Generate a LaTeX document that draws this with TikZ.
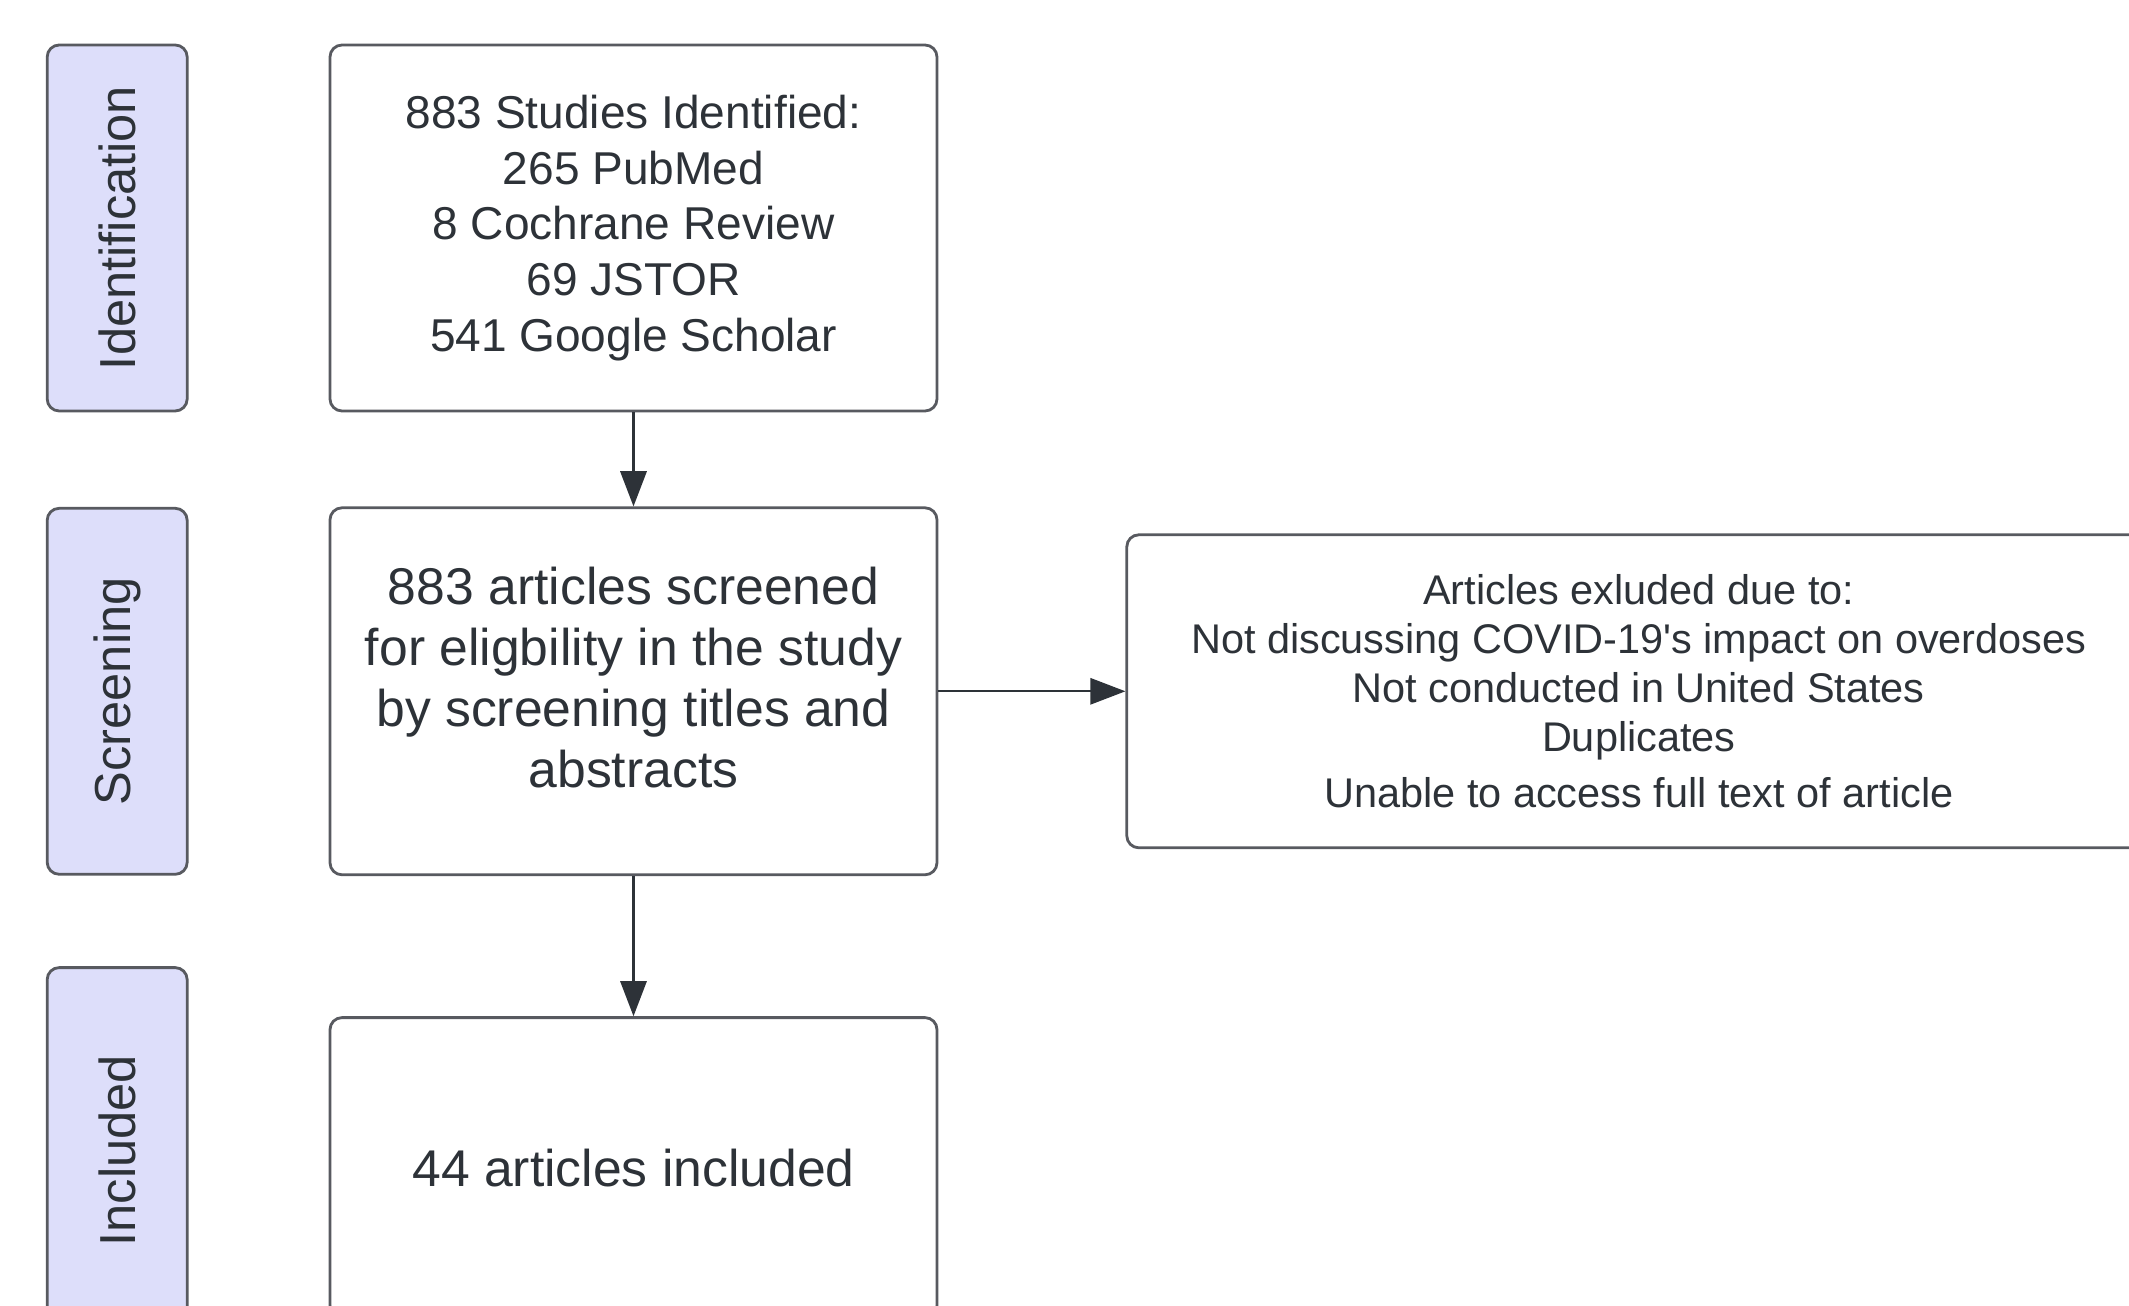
\documentclass[tikz,border=0pt]{standalone}
\usepackage{fontspec}
\setmainfont{Liberation Sans}
\usetikzlibrary{positioning}
\usetikzlibrary{arrows.meta}
\definecolor{stagefill}{RGB}{221,222,250}
\definecolor{boxline}{RGB}{88,90,96}
\definecolor{ink}{RGB}{45,50,56}

\begin{document}
\begin{tikzpicture}[->,
            >={Triangle[length=10pt,width=7.5pt]},
            node distance = 9.4mm and 18.7mm,
            box/.style = {draw=boxline,line width=0.8pt,rounded corners=1.2mm,fill=white,
                align=center,text=ink,minimum width=60.7mm,inner sep=0pt},
            stage/.style = {draw=boxline,line width=0.8pt,rounded corners=1.2mm,fill=stagefill,
                text=ink,rotate=90,anchor=south,minimum width=36.6mm,minimum height=14mm,
                font=\fontsize{14.4}{17}\selectfont},
            every edge/.append style = {draw=ink,line width=0.6pt}]
            \useasboundingbox (0,0) rectangle (21.29,-13.06);
            \node[box, minimum height=36.6mm, font=\fontsize{13.1}{15.9}\selectfont]
                (found) at (6.335,-2.28) {883 Studies Identified:\\265 PubMed\\8 Cochrane Review\\69 JSTOR\\541 Google Scholar};
            \node[box, below=of found, minimum height=36.7mm, font=\fontsize{14.7}{17.4}\selectfont]
                (screened) {883 articles screened\\for eligbility in the study\\by screening titles and\\abstracts\\[-9.5pt]};
            \node[box, below=14mm of screened, minimum height=30mm, font=\fontsize{14.7}{17.4}\selectfont]
                (included) {44 articles included};
            \node[box, right=of screened, minimum width=102.4mm, minimum height=31.3mm,
                font=\fontsize{11.8}{13.9}\selectfont]
                (excluded) {Articles exluded due to:\\Not discussing COVID-19\textquotesingle s impact on overdoses\\Not conducted in United States\\Duplicates\\[2pt]Unable to access full text of article};
            \node[stage] (ident) at ([xshift=-14mm]found.west) {Identification};
            \node[stage] (screen) at ([xshift=-14mm]screened.west) {Screening};
            \node[stage] (incl) at ([xshift=-14mm,yshift=1.7mm]included.west) {Included};
            \path
                (found) edge (screened)
                (screened) edge (included)
                (screened) edge (excluded);
        \end{tikzpicture}
\end{document}
